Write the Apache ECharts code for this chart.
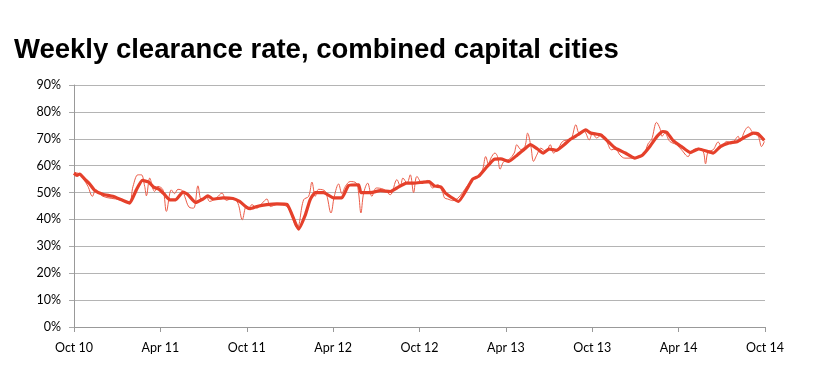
<!DOCTYPE html>
<html>
<head>
<meta charset="utf-8">
<style>html,body{margin:0;padding:0;background:#fff}#c{width:818px;height:382px}</style>
<script src="https://cdn.jsdelivr.net/npm/echarts@6/dist/echarts.min.js"></script>
</head>
<body>
<div id="c"></div>
<script>
// x positions: months since Oct 2010
const tickLabels = ['Oct 10','Apr 11','Oct 11','Apr 12','Oct 12','Apr 13','Oct 13','Apr 14','Oct 14'];

const weeklyMonths = [0,0.4,0.63,0.97,1.28,1.51,2.01,3.17,3.82,4.1,4.44,4.68,4.91,5.03,5.26,5.49,5.6,5.83,6.18,6.42,6.76,6.99,7.22,7.53,7.69,7.99,8.31,8.61,8.85,9.19,9.42,9.89,10.28,10.58,11.04,11.39,11.69,11.97,
12.13,12.36,12.71,13.06,13.4,13.64,14.1,14.79,15.49,15.95,16.3,16.53,16.76,16.99,17.46,17.85,18.08,18.38,18.61,18.85,19.19,19.61,19.77,19.93,20.12,20.4,20.69,21.0,21.51,21.97,22.43,22.67,22.85,23.13,23.36,23.59,23.82,
24.2,24.56,24.91,25.26,25.6,25.74,25.96,26.3,27.68,28.03,28.38,28.6,28.8,28.96,29.24,29.42,29.6,29.84,30.24,30.58,30.76,31.04,31.32,31.51,31.74,31.92,32.15,32.43,32.78,33.08,33.31,33.59,33.94,34.28,34.56,34.86,35.1,35.44,35.79,36.02,
36.3,36.65,37.0,37.34,37.62,37.92,38.26,38.96,39.55,39.9,40.12,40.47,40.7,40.85,41.04,41.39,41.85,42.2,42.66,42.9,43.36,43.71,43.87,44.05,44.4,44.75,44.98,45.33,45.68,46.14,46.25,46.6,46.83,47.18,47.53,47.76,47.96];
const weeklyValues = [57.5,56.9,55.3,52.3,48.6,51,48.6,47.3,46,52.3,56.6,56.6,52.3,48.8,55.4,51.3,50.4,52.3,51,43,51,49.6,51.2,50.7,48.6,44.6,44.2,52.5,47.3,48.6,46.7,48,49.8,47.1,48,46,39.9,45,
44.2,45.5,44.2,46,47.6,44.8,45.5,44.8,36.8,47.3,48.6,53.9,48.6,51.2,50.4,42.4,48.6,53.2,49.6,52.3,54.1,53.5,49.8,42.4,49.8,53.5,48.6,51.7,51.2,49.2,54.8,52.3,55.4,53.5,56.6,50,56,
53.5,54.5,51.7,52.9,50.2,48,47.6,47,54.8,55.4,58.5,63.4,60.5,62.8,64.7,63.4,58.7,61.4,62.4,64.7,67.8,66,67.1,72.1,67.1,61.6,64,66.5,65.2,67.8,64.7,66,69,69.6,70.3,75.2,72.1,72.7,69.6,72.1,
70.3,71.5,69,65.9,66.2,64,62.8,62.8,64,68.4,69.6,76.1,73.9,70.9,72.1,69,67.8,65.9,63.4,65.4,66.5,65.2,60.7,65.2,65.9,68.8,67.1,69,68.4,70.9,69,73,74.4,72.1,70.9,67.1,69];

const trendMonths = [0,0.21,0.4,0.74,1.09,1.44,2.0,2.7,3.3,3.87,4.33,4.75,5.2,5.53,5.9,6.3,6.65,7.06,7.57,7.92,8.45,8.96,9.3,9.65,10.35,11.04,11.5,11.97,
12.25,12.7,13.4,14.1,14.8,15.6,16.07,16.4,16.76,17.34,18.03,18.6,19.07,19.77,19.93,20.6,21.28,21.97,22.43,23.1,23.6,
24.15,24.67,25.03,25.5,25.8,26.4,26.7,27.7,28.1,28.7,29.2,29.65,30.2,30.8,31.3,31.7,32.2,32.6,33.0,33.5,34.05,34.5,35.0,35.55,35.9,
36.6,37.1,37.6,38.3,38.96,39.5,40.0,40.5,40.9,41.2,41.6,42.2,42.8,43.4,44.4,44.9,45.5,46.1,46.7,47.2,47.5,47.95];
const trendValues = [57.2,56.4,56.9,55,53.2,50.8,49.4,48.6,47.3,46.1,51,54.5,53.9,52,51.3,49.2,47.3,47.3,50.2,49.2,46.3,47.6,48.8,47.6,48,47.8,46.7,44.6,
44,44.8,45.5,45.8,45.6,36.4,41.7,47.3,50,50,48,48,52.6,52.9,50,50,50.7,50.4,51.7,53.5,53.5,
53.8,54.1,52.5,52,49.8,47.6,46.7,55,56,59.7,62.4,62.5,61.6,64,66.2,67.8,66.2,64.7,66.2,65.7,67.8,69.9,71.5,73.3,72.1,
71.4,69,66.5,64.7,62.8,64,67.1,70.9,72.7,72.3,69.4,67.1,64.9,66.2,64.7,67.1,68.4,69,70.9,72.1,71.9,69.4];

const weekly = weeklyMonths.map((m, i) => [m, weeklyValues[i]]);
const trend = trendMonths.map((m, i) => [m, trendValues[i]]);

const chart = echarts.init(document.getElementById('c'), null, {renderer: 'canvas'});
const labelFont = {color: '#000', fontFamily: 'Lato', fontSize: 12.5};
chart.setOption({
  animation: false,
  backgroundColor: '#fff',
  title: {
    text: 'Weekly clearance rate, combined capital cities',
    left: 9, top: 31,
    textStyle: {fontFamily: 'Liberation Sans', fontWeight: 'bold', fontSize: 27.5, color: '#000'}
  },
  grid: {left: 74, right: 53, top: 85, bottom: 55},
  xAxis: {
    type: 'value', min: 0, max: 48, interval: 6,
    axisLine: {show: true, lineStyle: {color: '#999', width: 1}},
    axisTick: {show: true, length: 5, lineStyle: {color: '#999'}},
    splitLine: {show: false},
    axisLabel: Object.assign({margin: 14, formatter: v => tickLabels[Math.round(v / 6)] || ''}, labelFont)
  },
  yAxis: {
    type: 'value', min: 0, max: 90, interval: 10,
    axisLine: {show: true, lineStyle: {color: '#999', width: 1}},
    axisTick: {show: true, length: 5, lineStyle: {color: '#aaa'}},
    splitLine: {show: true, lineStyle: {color: '#b4b4b4', width: 1.2}},
    axisLabel: Object.assign({margin: 13, formatter: '{value}%'}, labelFont)
  },
  series: [
    {
      type: 'line', data: weekly, smooth: 0.35, symbol: 'none',
      lineStyle: {color: '#ec5c48', width: 1}, z: 2
    },
    {
      type: 'line', data: trend, smooth: 0.15, symbol: 'none',
      lineStyle: {color: '#e5402b', width: 3.2}, z: 3
    }
  ]
});
</script>
</body>
</html>
